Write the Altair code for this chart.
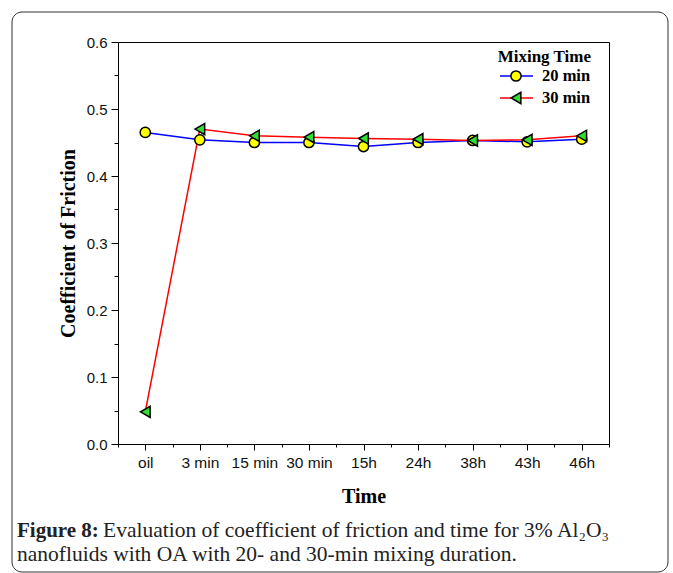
import json
import altair as alt
import pandas as pd

# ---------------- data ----------------
categories = ["oil", "3 min", "15 min", "30 min", "15h", "24h", "38h", "43h", "46h"]
cof_20min = [0.465, 0.454, 0.450, 0.450, 0.444, 0.450, 0.453, 0.451, 0.455]
cof_30min = [0.048, 0.470, 0.460, 0.458, 0.456, 0.455, 0.453, 0.454, 0.460]
series = ["20 min", "30 min"]
legend_title = "Mixing Time"
y_title = "Coefficient of Friction"
x_title = "Time"
caption_bold = "Figure 8:"
caption_line1 = "Evaluation of coefficient of friction and time for 3% Al\u2082O\u2083"
caption_line2 = "nanofluids with OA with 20- and 30-min mixing duration."

n = len(categories)
df20 = pd.DataFrame({"pos": list(range(n)), "Time": categories, "cof": cof_20min})
df30 = pd.DataFrame({"pos": list(range(n)), "Time": categories, "cof": cof_30min})

# axis tick positions (major at categories, minor halfway between)
x_tick_vals = [i * 0.5 - 0.5 for i in range(2 * n + 1)]
y_tick_vals = [round(i * 0.05, 2) for i in range(13)]

W, H = 491, 402
SERIF = "Liberation Serif"
SANS = "Liberation Sans"

x_enc = alt.X(
    "pos:Q",
    scale=alt.Scale(domain=[-0.5, n - 0.5], nice=False, zero=False),
    axis=alt.Axis(
        values=x_tick_vals,
        labelExpr=f"(datum.value % 1 === 0) ? {json.dumps(categories)}[datum.value] : ''",
        labelOverlap=False,
        labelFlush=False,
        grid=False,
        tickSize={"condition": {"test": "datum.value % 1 === 0", "value": 6}, "value": 3},
        tickColor="black",
        domainColor="black",
        labelFont=SANS,
        labelFontSize=15.5,
        labelColor="#111",
        labelPadding=5,
        title=x_title,
        titleFont=SERIF,
        titleFontSize=20,
        titleFontWeight="bold",
        titleColor="black",
        titlePadding=16,
    ),
)

y_enc = alt.Y(
    "cof:Q",
    scale=alt.Scale(domain=[0, 0.6], nice=False),
    axis=alt.Axis(
        values=y_tick_vals,
        labelExpr="(round(datum.value * 100) % 10 === 0) ? format(datum.value, '.1f') : ''",
        labelOverlap=False,
        labelFlush=False,
        grid=False,
        tickSize={"condition": {"test": "round(datum.value * 100) % 10 === 0", "value": 7}, "value": 4},
        tickColor="black",
        domainColor="black",
        labelFont=SANS,
        labelFontSize=15,
        labelColor="#111",
        labelPadding=4,
        title=y_title,
        titleFont=SERIF,
        titleFontSize=20,
        titleFontWeight="bold",
        titleColor="black",
        titlePadding=8,
    ),
)

line20 = alt.Chart(df20).mark_line(color="#0000FF", strokeWidth=1.5).encode(x=x_enc, y=y_enc)
line30 = alt.Chart(df30).mark_line(color="#FF0000", strokeWidth=1.5).encode(x=x_enc, y=y_enc)
pts20 = alt.Chart(df20).mark_point(
    shape="circle", filled=True, fill="#FFFF00", stroke="black", strokeWidth=1.5, size=105, opacity=1
).encode(x=x_enc, y=y_enc)
pts30 = alt.Chart(df30).mark_point(
    shape="triangle-left", filled=True, fill="#33DD33", stroke="black", strokeWidth=1.5, size=125, opacity=1
).encode(x=x_enc, y=y_enc)

# ---------------- custom legend ----------------
one20 = pd.DataFrame({"s": [series[0]]})
one30 = pd.DataFrame({"s": [series[1]]})
oneT = pd.DataFrame({"s": [legend_title]})

leg_title = alt.Chart(oneT).mark_text(
    font=SERIF, fontSize=17, fontWeight="bold", align="right", baseline="alphabetic", color="black"
).encode(text="s:N", x=alt.value(473), y=alt.value(20))

leg_line20 = alt.Chart(one20).mark_rule(color="#0000FF", strokeWidth=1.5).encode(
    x=alt.value(382), x2=alt.value(415), y=alt.value(34)
)
leg_pt20 = alt.Chart(one20).mark_point(
    shape="circle", filled=True, fill="#FFFF00", stroke="black", strokeWidth=1.5, size=105, opacity=1
).encode(x=alt.value(398), y=alt.value(34))
leg_txt20 = alt.Chart(one20).mark_text(
    font=SERIF, fontSize=16.5, fontWeight="bold", align="left", baseline="middle", color="black"
).encode(text="s:N", x=alt.value(424), y=alt.value(34))

leg_line30 = alt.Chart(one30).mark_rule(color="#FF0000", strokeWidth=1.5).encode(
    x=alt.value(382), x2=alt.value(415), y=alt.value(56)
)
leg_pt30 = alt.Chart(one30).mark_point(
    shape="triangle-left", filled=True, fill="#33DD33", stroke="black", strokeWidth=1.5, size=125, opacity=1
).encode(x=alt.value(398), y=alt.value(56))
leg_txt30 = alt.Chart(one30).mark_text(
    font=SERIF, fontSize=16.5, fontWeight="bold", align="left", baseline="middle", color="black"
).encode(text="s:N", x=alt.value(424), y=alt.value(56))

# ---------------- caption & outer frame ----------------
capB = pd.DataFrame({"s": [caption_bold]})
cap1 = pd.DataFrame({"s": [caption_line1]})
cap2 = pd.DataFrame({"s": [caption_line2]})

cap_bold = alt.Chart(capB).mark_text(
    font=SERIF, fontSize=21, fontWeight="bold", align="left", baseline="alphabetic", color="#222"
).encode(text="s:N", x=alt.value(-101), y=alt.value(495))
cap_l1 = alt.Chart(cap1).mark_text(
    font=SERIF, fontSize=21.5, align="left", baseline="alphabetic", color="#222"
).encode(text="s:N", x=alt.value(-15), y=alt.value(495))
cap_l2 = alt.Chart(cap2).mark_text(
    font=SERIF, fontSize=21.5, align="left", baseline="alphabetic", color="#222"
).encode(text="s:N", x=alt.value(-101), y=alt.value(519))

frame = alt.Chart(pd.DataFrame({"s": ["frame"]})).mark_rect(
    fillOpacity=0, stroke="#333", strokeWidth=1, cornerRadius=10
).encode(x=alt.value(-106), x2=alt.value(550), y=alt.value(-30), y2=alt.value(530))

chart = alt.layer(
    frame,
    line20, line30, pts20, pts30,
    leg_title, leg_line20, leg_pt20, leg_txt20, leg_line30, leg_pt30, leg_txt30,
    cap_bold, cap_l1, cap_l2,
).properties(
    width=W, height=H,
    autosize=alt.AutoSizeParams(type="none"),
    padding={"left": 118, "top": 42, "right": 64, "bottom": 129},
    background="white",
).configure_view(
    stroke="black", strokeWidth=1
)

chart.save("out.html", embed_options={"renderer": "svg", "actions": False})
